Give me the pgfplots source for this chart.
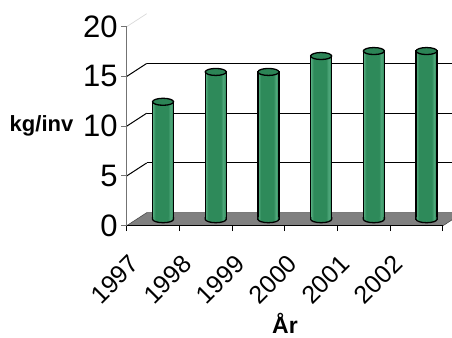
\documentclass[border=0pt]{standalone}
\usepackage{fontspec}
\setmainfont{Liberation Sans}
\usepackage{pgfplots}
\usepackage{pgfplotstable}
\pgfplotsset{compat=1.18}
\definecolor{gD}{HTML}{1C5E3B}
\definecolor{gM}{HTML}{2E8A5A}
\definecolor{gL}{HTML}{6CC196}
\definecolor{gL2}{HTML}{4FA87B}
\definecolor{gT}{HTML}{2C8456}
\definecolor{floorgray}{HTML}{808080}
\pgfdeclarehorizontalshading{cyl}{100bp}{color(0bp)=(gD); color(12bp)=(gM); color(22bp)=(gL); color(32bp)=(gM); color(62bp)=(gM); color(68bp)=(gL2); color(74bp)=(gM); color(100bp)=(gD)}
\pgfdeclareplotmark{cyltop}{%
  \pgfpathellipse{\pgfpointorigin}{\pgfqpoint{10.5bp}{0bp}}{\pgfqpoint{0bp}{3.5bp}}%
  \pgfusepathqfillstroke}
\pgfdeclareplotmark{cylbot}{%
  \pgfpathmoveto{\pgfqpoint{-10.5bp}{2bp}}%
  \pgfpathlineto{\pgfqpoint{-10.5bp}{0bp}}%
  \pgfpatharc{180}{360}{10.5bp and 3.5bp}%
  \pgfpathlineto{\pgfqpoint{10.5bp}{2bp}}%
  \pgfpathclose
  \pgfshadepath{cyl}{0}%
  \pgfusepath{}%
  \pgfpathmoveto{\pgfqpoint{-10.5bp}{2bp}}%
  \pgfpathlineto{\pgfqpoint{-10.5bp}{0bp}}%
  \pgfpatharc{180}{360}{10.5bp and 3.5bp}%
  \pgfpathlineto{\pgfqpoint{10.5bp}{2bp}}%
  \pgfusepathqstroke}
\pgfplotstableread{
x y
0.5 11.8
1.5 14.8
2.5 14.8
3.5 16.4
4.5 16.9
5.5 16.9
}\datatable
\pgfplotsset{cylbar/.style={ybar, bar width=21bp, draw=black, line width=1.3bp, shade, shading=cyl}}
\newfontfamily\tickfont{Liberation Sans}
\begin{document}
\begin{tikzpicture}
\useasboundingbox (0,0) rectangle (452bp,338bp);
% back wall
\begin{axis}[at={(146.7bp,125.3bp)}, anchor=origin, x=52.7bp, y=9.95bp,
  xmin=0, xmax=6, ymin=0, ymax=20, clip=false,
  axis line style={draw=none}, tick style={draw=none},
  xtick=\empty, ytick={5,10,15}, yticklabels={},
  ymajorgrids, grid style={black, line width=1bp}]
\end{axis}
% floor
\fill[floorgray, draw=black!70, line width=0.6bp] (126.7bp,112.3bp) -- (443bp,112.3bp) -- (463bp,125.3bp) -- (146.7bp,125.3bp) -- cycle;
% connectors
\foreach \v in {5,10,15} {
  \draw[black, line width=1bp] (126.7bp,112.3bp+\v*9.95bp) -- (146.7bp,125.3bp+\v*9.95bp);
}
\draw[black!15, line width=0.7bp] (126.7bp,112.3bp+199bp) -- (146.7bp,125.3bp+199bp);
% front axis
\begin{axis}[at={(126.7bp,112.3bp)}, anchor=origin, x=52.7bp, y=9.95bp,
  xmin=0, xmax=6, ymin=0, ymax=20, clip=false,
  axis x line*=bottom, axis y line*=left,
  x axis line style={draw=black, line width=1bp, -},
  y axis line style={draw=black!55, line width=1bp, -},
  tick align=outside, major tick length=5.5bp,
  xtick={0,...,6}, x tick label as interval,
  xticklabels={1997,1998,1999,2000,2001,2002},
  ytick={0,5,10,15,20},
  x tick style={draw=black, line width=1bp},
  y tick style={draw=black!55, line width=1bp},
  /pgf/number format/assume math mode=true,
  yticklabel style={font=\tickfont\fontsize{31bp}{36bp}\selectfont, anchor=east},
  xticklabel style={font=\tickfont\fontsize{25bp}{30bp}\selectfont, xshift=-16bp, yshift=-26bp, rotate=45, anchor=east}]
\end{axis}
% bars at mid depth
\begin{axis}[at={(136.7bp,118.8bp)}, anchor=origin, x=52.7bp, y=9.95bp,
  xmin=0, xmax=6, ymin=0, ymax=20, clip=false, hide axis]
\addplot[cylbar] coordinates {(0.5,11.8)};
\addplot[cylbar] coordinates {(1.5,14.8)};
\addplot[cylbar] coordinates {(2.5,14.8)};
\addplot[cylbar] coordinates {(3.5,16.4)};
\addplot[cylbar] coordinates {(4.5,16.9)};
\addplot[cylbar] coordinates {(5.5,16.9)};
\addplot[only marks, mark=cylbot, mark options={draw=black, line width=1.3bp}] table[x=x, y expr=0]{\datatable};
\addplot[only marks, mark=cyltop, mark options={fill=gT, draw=black, line width=1.3bp}] table[x=x, y=y]{\datatable};
\end{axis}
\node[anchor=base, font=\bfseries\fontsize{22bp}{26bp}\selectfont] at (41.5bp,206bp) {kg/inv};
\node[anchor=base, font=\bfseries\fontsize{23bp}{27bp}\selectfont] at (285bp,5bp) {År};
\end{tikzpicture}
\end{document}
